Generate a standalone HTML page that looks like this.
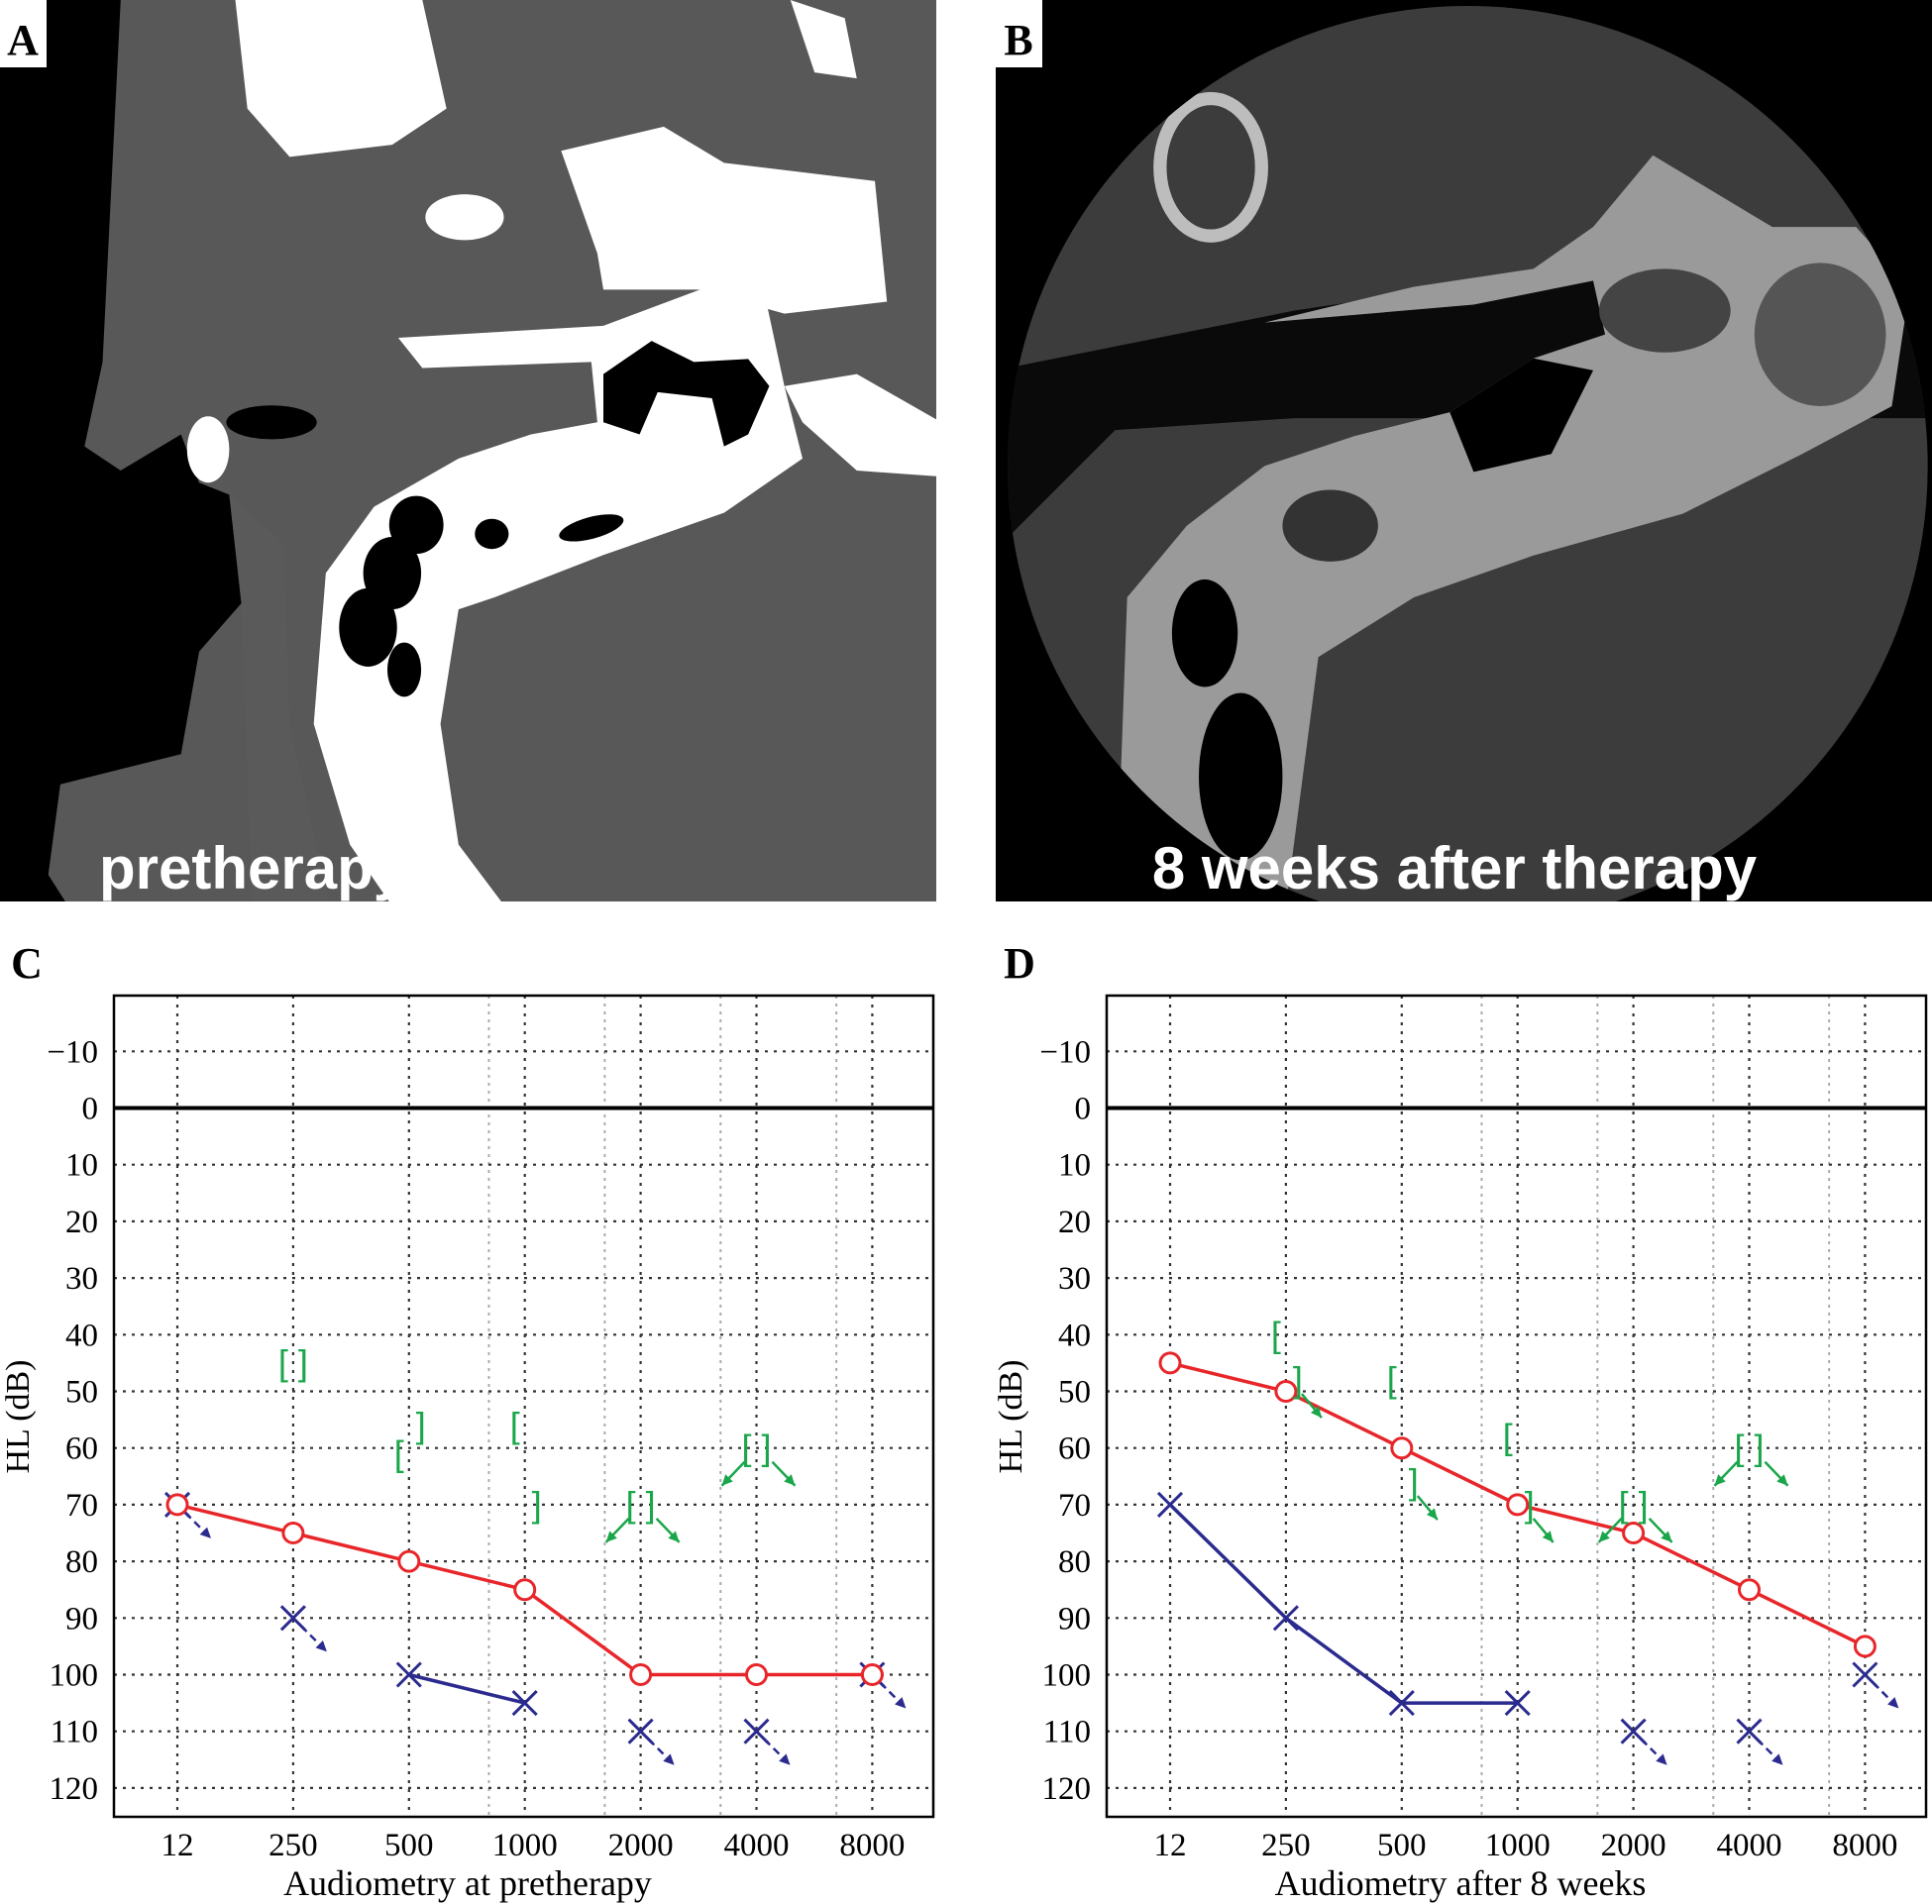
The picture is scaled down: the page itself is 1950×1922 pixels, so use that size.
<!DOCTYPE html>
<html><head><meta charset="utf-8"><style>
html,body{margin:0;padding:0;background:#fff;}
svg{display:block;}
text{font-family:"Liberation Serif",serif;}
</style></head><body>
<svg id="root" width="1950" height="1922" viewBox="0 0 1950 1922" xmlns="http://www.w3.org/2000/svg">
<defs>
 <clipPath id="clipA"><rect x="0" y="0" width="945" height="910"/></clipPath>
 <clipPath id="clipB"><rect x="1005" y="0" width="945" height="910"/></clipPath>
</defs>
<!-- Panel A -->
<g clip-path="url(#clipA)">
 <rect x="0" y="0" width="945" height="910" fill="#585858"/>
 <g transform="scale(0.609)">
  <path d="M0,0 L200,0 L170,600 L140,740 L200,780 L300,720 L330,800 L380,820 L400,1000 L330,1080 L300,1250 L100,1300 L80,1450 L150,1560 L0,1560 Z" fill="#000"/>
  <path d="M380,820 L400,1000 L420,1560 L560,1560 L480,1200 L470,900 Z" fill="#5a5a5a"/>
  <path d="M390,0 L700,0 L740,180 L650,240 L480,260 L410,180 Z" fill="#fff"/>
  <ellipse cx="770" cy="360" rx="65" ry="38" fill="#fff"/>
  <path d="M930,250 L1100,210 L1200,270 L1450,300 L1470,500 L1300,520 L1160,480 L1000,480 L990,420 Z" fill="#fff"/>
  <path d="M660,560 L1000,540 L1160,480 L1270,500 L1300,640 L1330,760 L1200,850 L1000,920 L820,990 L760,1010 L730,1200 L760,1400 L880,1560 L690,1560 L580,1400 L520,1200 L540,950 L620,840 L760,760 L880,720 L990,700 L980,600 L700,610 Z" fill="#fff"/>
  <path d="M1300,640 L1420,620 L1560,700 L1560,790 L1420,780 L1330,700 Z" fill="#fff"/>
  <path d="M1310,0 L1400,30 L1420,130 L1350,120 Z" fill="#fff"/>
  <ellipse cx="345" cy="745" rx="35" ry="55" fill="#fff"/>
  <ellipse cx="450" cy="700" rx="75" ry="28" fill="#000"/>
  <path d="M1000,620 L1080,565 L1150,600 L1240,595 L1275,640 L1240,720 L1200,740 L1180,660 L1090,650 L1060,720 L1000,700 Z" fill="#000"/>
  <ellipse cx="690" cy="870" rx="45" ry="48" fill="#000"/>
  <ellipse cx="650" cy="950" rx="48" ry="60" fill="#000"/>
  <ellipse cx="610" cy="1040" rx="48" ry="65" fill="#000"/>
  <ellipse cx="670" cy="1110" rx="28" ry="45" fill="#000"/>
  <ellipse cx="815" cy="885" rx="28" ry="25" fill="#000"/>
  <ellipse cx="980" cy="875" rx="55" ry="18" fill="#000" transform="rotate(-15 980 875)"/>
 </g>
 <rect x="0" y="0" width="47" height="68" fill="#fff"/>
 <text x="23" y="55" font-size="44" font-weight="bold" text-anchor="middle" fill="#000">A</text>
 <text x="100" y="897" font-size="60" font-weight="bold" fill="#fff" style="font-family:'Liberation Sans',sans-serif">pretherapy</text>
</g>
<!-- Panel B -->
<g clip-path="url(#clipB)">
 <rect x="1005" y="0" width="945" height="910" fill="#000"/>
 <g transform="translate(1005,0) scale(0.603)">
  <clipPath id="cc"><circle cx="790" cy="780" r="770"/></clipPath>
  <circle cx="790" cy="780" r="770" fill="#3c3c3c"/>
  <g clip-path="url(#cc)">
   <path d="M0,620 L300,560 L500,520 L700,490 L900,470 L1000,420 L1560,520 L1560,700 L1100,700 L800,700 L500,700 L200,720 L0,920 Z" fill="#0a0a0a"/>
   <path d="M450,540 L700,480 L900,450 L1000,380 L1100,260 L1300,380 L1440,380 L1530,480 L1500,680 L1350,760 L1150,860 L900,930 L700,1000 L540,1100 L480,1560 L200,1560 L220,1000 L320,880 L450,780 L600,730 L760,690 L900,600 L1020,560 L1000,470 L800,510 Z" fill="#9a9a9a"/>
   <ellipse cx="1120" cy="520" rx="110" ry="70" fill="#444"/>
   <path d="M760,690 L900,600 L1000,620 L930,760 L800,790 Z" fill="#000"/>
   <ellipse cx="560" cy="880" rx="80" ry="60" fill="#333"/>
   <ellipse cx="350" cy="1060" rx="55" ry="90" fill="#000"/>
   <ellipse cx="410" cy="1300" rx="70" ry="140" fill="#000"/>
   <ellipse cx="1380" cy="560" rx="110" ry="120" fill="#555"/>
   <ellipse cx="360" cy="280" rx="85" ry="115" fill="none" stroke="#bdbdbd" stroke-width="22"/>
  </g>
 </g>
 <rect x="1005" y="0" width="47" height="68" fill="#fff"/>
 <text x="1028" y="55" font-size="44" font-weight="bold" text-anchor="middle" fill="#000">B</text>
 <text x="1468" y="897" font-size="60" font-weight="bold" fill="#fff" text-anchor="middle" style="font-family:'Liberation Sans',sans-serif">8 weeks after therapy</text>
</g>
<text x="27" y="987" font-size="44" font-weight="bold" text-anchor="middle">C</text>
<text x="1029" y="987" font-size="44" font-weight="bold" text-anchor="middle">D</text>
<g id="chartC"></g>
<g id="chartD"></g>
</svg>
<script>
const freqLabels = ["12","250","500","1000","2000","4000","8000"];
const yTicks = [-10,0,10,20,30,40,50,60,70,80,90,100,110,120];
// Panel C
const redC = [70,75,80,85,100,100,100];
const blueLineC = [[2,100],[3,105]];
const blueArrowC = [[0,70],[1,90],[4,110],[5,110],[6,100]];
const greenC = [["[]",1,45,false],["[",2,61,false],["]",2,56,false],["[",3,56,false],["]",3,70,false],["[]",4,70,true],["[]",5,60,true]];
// Panel D
const redD = [45,50,60,70,75,85,95];
const blueLineD = [[0,70],[1,90],[2,105],[3,105]];
const blueArrowD = [[4,110],[5,110],[6,100]];
const greenD = [["[",1,40,false],["]",1,48,"r"],["[",2,48,false],["]",2,66,"r"],["[",3,58,false],["]",3,70,"r"],["[]",4,70,true],["[]",5,60,true]];

const NS="http://www.w3.org/2000/svg";
function mk(p,tag,attrs){const e=document.createElementNS(NS,tag);for(const k in attrs)e.setAttribute(k,attrs[k]);p.appendChild(e);return e;}
function draw(gid,dx,red,blueLine,blueArrow,green,title){
  const g=document.getElementById(gid);
  const L=115+dx,R=942+dx,T=1005,B=1834;
  const xs=i=>179+dx+i*116.9;
  const ys=v=>1118.5+v*5.72;
  [2.69,3.69,4.69,5.69].forEach(o=>{const l=mk(g,'line',{x1:xs(o),x2:xs(o),y1:T,y2:B,stroke:'#aaa','stroke-width':2,'stroke-dasharray':'3,5'});
    });
  freqLabels.forEach((f,i)=>{
    const l=mk(g,'line',{x1:xs(i),x2:xs(i),y1:T,y2:B,stroke:'#333','stroke-width':2.2,'stroke-dasharray':'3,6'});
    
    const t=mk(g,'text',{x:xs(i),y:1873,'font-size':33,'text-anchor':'middle'});t.textContent=f;
    
  });
  yTicks.forEach(v=>{
    if(v!==0){const l=mk(g,'line',{x1:L,x2:R,y1:ys(v),y2:ys(v),stroke:'#333','stroke-width':2.2,'stroke-dasharray':'3,6'});
    }
    const t=mk(g,'text',{x:99+dx,y:ys(v)+11,'font-size':33,'text-anchor':'end'});t.textContent=v<0?'\u2212'+(-v):String(v);
    
  });
  const z=mk(g,'line',{x1:L,x2:R,y1:ys(0),y2:ys(0),stroke:'#000','stroke-width':4});
  
  const fr=mk(g,'rect',{x:L,y:T,width:R-L,height:B-T,fill:'none',stroke:'#000','stroke-width':2.5});
  
  const yt=mk(g,'text',{x:0,y:0,'font-size':34,'text-anchor':'middle',transform:`translate(${29+dx},1430) rotate(-90)`});yt.textContent='HL (dB)';
  
  const xt=mk(g,'text',{x:472+dx,y:1913,'font-size':36,'text-anchor':'middle'});xt.textContent=title;
  
  const blue='#2b2b8f',redc='#e8262a',green_='#1aa64a';
  function arrow(x1,y1,x2,y2,col,dash){
    const l=mk(g,'line',{x1,y1,x2,y2,stroke:col,'stroke-width':2.5,'stroke-dasharray':dash?'8,5':'none'});
    
    const a=Math.atan2(y2-y1,x2-x1),s=12;
    const p=mk(g,'polygon',{points:`${x2},${y2} ${x2-s*Math.cos(a-0.45)},${y2-s*Math.sin(a-0.45)} ${x2-s*Math.cos(a+0.45)},${y2-s*Math.sin(a+0.45)}`,fill:col});
    
  }
  function cross(x,y){const s=12;
    const p=mk(g,'path',{d:`M${x-s},${y-s}L${x+s},${y+s}M${x+s},${y-s}L${x-s},${y+s}`,stroke:blue,'stroke-width':3,fill:'none'});
    }
  const rp=mk(g,'polyline',{points:red.map((v,i)=>xs(i)+','+ys(v)).join(' '),fill:'none',stroke:redc,'stroke-width':3.5});
  
  const bp=mk(g,'polyline',{points:blueLine.map(d=>xs(d[0])+','+ys(d[1])).join(' '),fill:'none',stroke:blue,'stroke-width':3.5});
  
  blueLine.forEach(d=>cross(xs(d[0]),ys(d[1])));
  blueArrow.forEach(d=>{const x=xs(d[0]),y=ys(d[1]);cross(x,y);arrow(x+8,y+8,x+34,y+34,blue,true);});
  red.forEach((v,i)=>{const c=mk(g,'circle',{cx:xs(i),cy:ys(v),r:10,fill:'#fff',stroke:redc,'stroke-width':3});
    });
  green.forEach(d=>{const [s,i,v,ar]=d;const x=xs(i),y=ys(v);
    let tx=x; if(s==='[')tx=x-10; if(s===']')tx=x+12;
    const t=mk(g,'text',{x:tx,y:y+12,'font-size':36,'text-anchor':'middle',fill:green_});
    t.setAttribute('style',"font-family:'Liberation Sans',sans-serif");
    t.textContent=s==='[]'?'[ ]':s;
    
    if(ar===true){arrow(x-12,y+14,x-35,y+38,green_,false);arrow(x+16,y+14,x+39,y+38,green_,false);}
    if(ar==='r'){arrow(x+16,y+14,x+36,y+38,green_,false);}
  });
}
draw('chartC',0,redC,blueLineC,blueArrowC,greenC,'Audiometry at pretherapy');
draw('chartD',1002,redD,blueLineD,blueArrowD,greenD,'Audiometry after 8 weeks');
</script>
</body></html>
